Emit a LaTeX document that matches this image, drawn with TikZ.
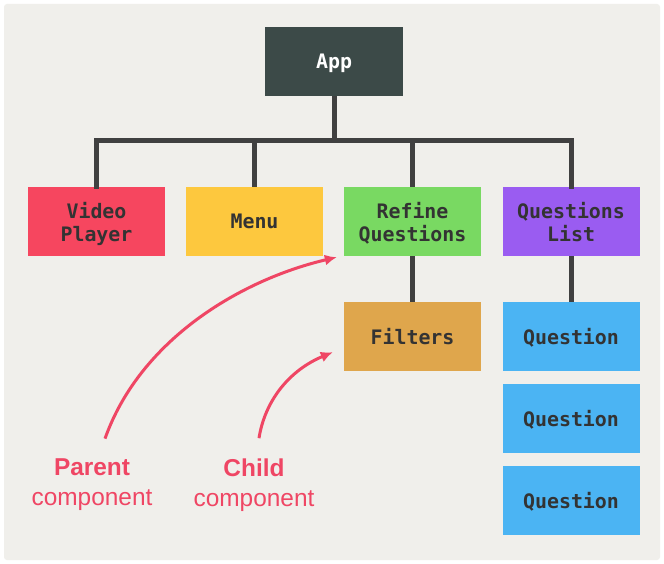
\documentclass[tikz,border=0pt]{standalone}
\usepackage{fontspec}
\setmainfont{Liberation Sans}
\newfontfamily\codefont{DejaVu Sans Mono}
\usetikzlibrary{arrows.meta}

\definecolor{panelbg}{HTML}{F0EFEB}
\definecolor{appcol}{HTML}{3C4A48}
\definecolor{videocol}{HTML}{F6465F}
\definecolor{menucol}{HTML}{FDC83E}
\definecolor{refinecol}{HTML}{79D962}
\definecolor{listcol}{HTML}{9A5CF1}
\definecolor{filtercol}{HTML}{DFA64C}
\definecolor{questcol}{HTML}{4BB4F3}
\definecolor{treeline}{HTML}{404040}
\definecolor{notecol}{HTML}{EF4664}
\definecolor{boxtext}{HTML}{333333}

\begin{document}
\begin{tikzpicture}[x=1bp, y=-1bp,
  comp/.style={rectangle, minimum width=137bp, minimum height=69bp, inner sep=0pt,
    text depth=0pt, align=center, text=boxtext,
    font=\codefont\bfseries\fontsize{20}{23}\selectfont},
  tree/.style={line width=5bp, draw=treeline},
  note/.style={align=center, text=notecol, font=\fontsize{24.5}{30}\selectfont},
  pointer/.style={line width=3bp, draw=notecol, -{Latex[length=12bp,width=11bp]}}]

  % Background panel
  \fill[white] (0,0) rectangle (664,564);
  \fill[panelbg, rounded corners=3bp] (4,4) rectangle (660,560);

  % Root
  \node[comp, fill=appcol, text=white, minimum width=138bp] (app) at (334,61.5) {App};

  % Children of App
  \node[comp, fill=videocol] (video) at (96.5,221.5) {Video\\Player};
  \node[comp, fill=menucol] (menu) at (254.5,221.5) {Menu};
  \node[comp, fill=refinecol] (refine) at (412.5,221.5) {Refine\\Questions};
  \node[comp, fill=listcol] (list) at (571,221.5) {Questions\\List};

  % Grandchildren
  \node[comp, fill=filtercol] (filters) at (412.5,336.5) {Filters};
  \node[comp, fill=questcol] (q1) at (571,336.5) {Question};
  \node[comp, fill=questcol] (q2) at (571,418.5) {Question};
  \node[comp, fill=questcol] (q3) at (571,500.5) {Question};

  % Tree links
  \coordinate (bus) at (334,141);
  \draw[tree] (app.south) -- (bus);
  \draw[tree, line cap=rect] (video.north) |- (bus) -| (list.north);
  \draw[tree] (menu.north) -- (menu.north |- bus);
  \draw[tree] (refine.north) -- (refine.north |- bus);
  \draw[tree] (refine.south) -- (filters.north);
  \draw[tree] (list.south) -- (q1.north);

  % Annotations
  \node[note] (parent) at (92,485) {\textbf{Parent}\\component};
  \node[note] (child) at (254,485) {\textbf{Child}\\component};

  \draw[pointer] ([shift={(13,-17)}]parent.north) .. controls (140,340) and (240,280) .. ([shift={(-7,1)}]refine.south west);
  \draw[pointer] ([shift={(5,-17)}]child.north) .. controls (265,400) and (290,370) .. ([shift={(-11,-19)}]filters.south west);

\end{tikzpicture}
\end{document}
